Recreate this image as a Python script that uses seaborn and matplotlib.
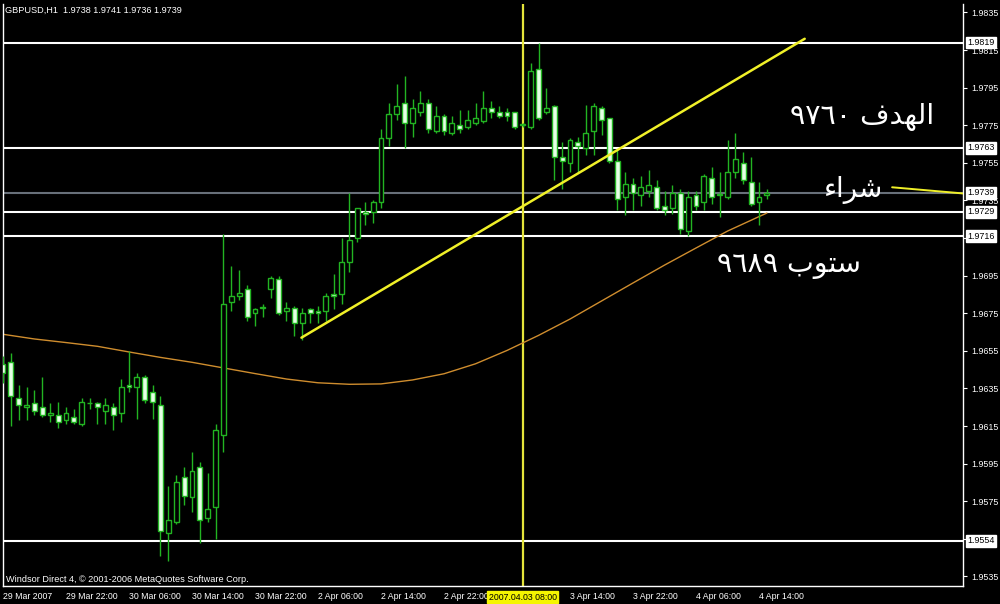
import numpy as np
import pandas as pd
import matplotlib
matplotlib.use("Agg")
import matplotlib.pyplot as plt
import seaborn as sns

# GBPUSD H1, one bar per hour, from 29 Mar 2007 14:00 to 4 Apr 2007 15:00
opens = [1.9648, 1.9649, 1.9630, 1.9625, 1.9627, 1.9625, 1.9621, 1.9621, 1.9618, 1.9620,
         1.9616, 1.9627, 1.9627, 1.9623, 1.9625, 1.9622, 1.9637, 1.9636, 1.9641, 1.9633,
         1.9626, 1.9558, 1.9564, 1.9588, 1.9577, 1.9593, 1.9566, 1.9572, 1.9610, 1.9681,
         1.9684, 1.9688, 1.9675, 1.9678, 1.9688, 1.9693, 1.9676, 1.9678, 1.9670, 1.9677,
         1.9676, 1.9676, 1.9685, 1.9685, 1.9702, 1.9715, 1.9729, 1.9729, 1.9734, 1.9768,
         1.9781, 1.9787, 1.9776, 1.9782, 1.9787, 1.9772, 1.9780, 1.9771, 1.9775, 1.9774,
         1.9776, 1.9777, 1.9784, 1.9782, 1.9782, 1.9782, 1.9775, 1.9774, 1.9805, 1.9782,
         1.9785, 1.9758, 1.9755, 1.9766, 1.9763, 1.9772, 1.9784, 1.9779, 1.9756, 1.9737,
         1.9744, 1.9738, 1.9740, 1.9742, 1.9732, 1.9731, 1.9739, 1.9719, 1.9738, 1.9734,
         1.9747, 1.9738, 1.9737, 1.9750, 1.9755, 1.9745, 1.9734, 1.9738]
highs = [1.9652, 1.9654, 1.9637, 1.9636, 1.9634, 1.9641, 1.9627, 1.9628, 1.9625, 1.9624,
         1.9630, 1.9630, 1.9628, 1.9630, 1.9627, 1.9640, 1.9655, 1.9643, 1.9642, 1.9637,
         1.9631, 1.9583, 1.9589, 1.9593, 1.9601, 1.9596, 1.9590, 1.9616, 1.9717, 1.9700,
         1.9698, 1.9690, 1.9678, 1.9680, 1.9695, 1.9695, 1.9681, 1.9679, 1.9678, 1.9678,
         1.9679, 1.9686, 1.9696, 1.9715, 1.9739, 1.9731, 1.9734, 1.9735, 1.9773, 1.9787,
         1.9797, 1.9801, 1.9789, 1.9793, 1.9789, 1.9785, 1.9781, 1.9780, 1.9783, 1.9783,
         1.9787, 1.9793, 1.9788, 1.9785, 1.9784, 1.9782, 1.9776, 1.9808, 1.9819, 1.9795,
         1.9786, 1.9766, 1.9768, 1.9769, 1.9786, 1.9787, 1.9785, 1.9779, 1.9762, 1.9750,
         1.9747, 1.9748, 1.9751, 1.9746, 1.9740, 1.9743, 1.9741, 1.9740, 1.9740, 1.9749,
         1.9753, 1.9750, 1.9767, 1.9771, 1.9761, 1.9758, 1.9745, 1.9741]
lows = [1.9638, 1.9615, 1.9618, 1.9618, 1.9621, 1.9620, 1.9617, 1.9614, 1.9616, 1.9616,
        1.9615, 1.9624, 1.9616, 1.9616, 1.9613, 1.9617, 1.9633, 1.9619, 1.9627, 1.9619,
        1.9546, 1.9543, 1.9563, 1.9573, 1.9569, 1.9553, 1.9564, 1.9555, 1.9601, 1.9676,
        1.9682, 1.9671, 1.9668, 1.9673, 1.9683, 1.9674, 1.9671, 1.9663, 1.9661, 1.9670,
        1.9670, 1.9671, 1.9677, 1.9680, 1.9697, 1.9713, 1.9722, 1.9723, 1.9731, 1.9764,
        1.9778, 1.9763, 1.9769, 1.9780, 1.9771, 1.9771, 1.9770, 1.9770, 1.9771, 1.9773,
        1.9775, 1.9776, 1.9779, 1.9779, 1.9777, 1.9773, 1.9774, 1.9773, 1.9778, 1.9781,
        1.9746, 1.9741, 1.9750, 1.9750, 1.9759, 1.9759, 1.9770, 1.9755, 1.9730, 1.9727,
        1.9730, 1.9732, 1.9737, 1.9730, 1.9727, 1.9728, 1.9717, 1.9716, 1.9730, 1.9730,
        1.9733, 1.9726, 1.9736, 1.9747, 1.9744, 1.9732, 1.9722, 1.9736]
closes = [1.9643, 1.9631, 1.9626, 1.9626, 1.9623, 1.9621, 1.9622, 1.9617, 1.9622, 1.9617,
          1.9628, 1.9627, 1.9625, 1.9626, 1.9621, 1.9636, 1.9636, 1.9641, 1.9629, 1.9628,
          1.9559, 1.9565, 1.9585, 1.9578, 1.9591, 1.9565, 1.9571, 1.9613, 1.9680, 1.9684,
          1.9686, 1.9673, 1.9677, 1.9678, 1.9694, 1.9675, 1.9678, 1.9670, 1.9675, 1.9675,
          1.9675, 1.9684, 1.9684, 1.9702, 1.9714, 1.9731, 1.9728, 1.9734, 1.9768, 1.9781,
          1.9785, 1.9776, 1.9784, 1.9787, 1.9773, 1.9780, 1.9772, 1.9776, 1.9773, 1.9778,
          1.9779, 1.9784, 1.9782, 1.9780, 1.9780, 1.9774, 1.9775, 1.9804, 1.9779, 1.9784,
          1.9758, 1.9756, 1.9767, 1.9764, 1.9771, 1.9785, 1.9778, 1.9756, 1.9736, 1.9744,
          1.9739, 1.9742, 1.9743, 1.9731, 1.9730, 1.9739, 1.9720, 1.9737, 1.9732, 1.9748,
          1.9737, 1.9738, 1.9750, 1.9757, 1.9746, 1.9733, 1.9737, 1.9739]

# moving average (orange curve), read every 4 bars
ma_bars = [0, 4, 8, 12, 16, 20, 24, 28, 32, 36, 40, 44, 48, 52, 56, 60, 64,
           68, 72, 76, 80, 84, 88, 92, 96, 97]
ma_values = [1.96638, 1.96613, 1.96594, 1.96574, 1.96544, 1.96515, 1.96489, 1.96459,
             1.96429, 1.96400, 1.96380, 1.96372, 1.96374, 1.96395, 1.96428, 1.96481,
             1.96552, 1.96632, 1.96719, 1.96815, 1.96911, 1.97006, 1.97097, 1.97187,
             1.97264, 1.97283]

# drawn objects
hlines_levels = [1.9819, 1.9763, 1.9729, 1.9716, 1.9554]
bid_price = 1.9739
trend_bars = [37.9, 101.8]
trend_prices = [1.9662, 1.9821]
buy_bars = [112.9, 122.5]
buy_prices = [1.9742, 1.97385]
vline_bar = 66

tick_bars = [0, 8, 16, 24, 32, 40, 48, 56, 72, 80, 88, 96]
tick_labels = ["29 Mar 2007", "29 Mar 22:00", "30 Mar 06:00", "30 Mar 14:00",
               "30 Mar 22:00", "2 Apr 06:00", "2 Apr 14:00", "2 Apr 22:00",
               "3 Apr 14:00", "3 Apr 22:00", "4 Apr 06:00", "4 Apr 14:00"]
price_ticks = [1.9535, 1.9555, 1.9575, 1.9595, 1.9615, 1.9635, 1.9655, 1.9675,
               1.9695, 1.9715, 1.9735, 1.9755, 1.9775, 1.9795, 1.9815, 1.9835]
# these two scale labels sit under the boxed line prices in the terminal
hidden_ticks = [1.9555, 1.9715]

sns.set_theme(style="dark", rc={
    "figure.facecolor": "black",
    "axes.facecolor": "black",
    "axes.edgecolor": "white",
    "text.color": "white",
    "xtick.color": "white",
    "ytick.color": "white",
})
plt.rcParams["font.family"] = ["Liberation Sans", "DejaVu Sans"]

df = pd.DataFrame({"open": opens, "high": highs, "low": lows, "close": closes})
df["bar"] = np.arange(len(df))
ma_df = pd.DataFrame({"bar": ma_bars, "ma": ma_values})
trend_df = pd.DataFrame({"bar": trend_bars, "price": trend_prices})
buy_df = pd.DataFrame({"bar": buy_bars, "price": buy_prices})

fig = plt.figure(figsize=(10, 6.04), dpi=100)
ax = fig.add_axes([0.0025, 0.0298, 0.9605, 0.9636])
ax.set_xlim(-0.06, 121.9)
ax.set_ylim(1.95299, 1.98395)

# horizontal levels and bid line
for lvl in hlines_levels:
    ax.axhline(lvl, color="white", lw=1.5, zorder=1)
ax.axhline(bid_price, color="#68707a", lw=1.5, zorder=1)
ax.axvline(vline_bar, color="#e4e43a", lw=1.6, zorder=1)

sns.lineplot(data=ma_df, x="bar", y="ma", color="#cf8d2e", lw=1.0, ax=ax, zorder=2)

# candles
green = "#22b422"
bull = df["close"] >= df["open"]
ax.vlines(df["bar"], df["low"], df["high"], color=green, lw=1.0, zorder=3)
body_lo = np.minimum(df["open"], df["close"])
body_h = np.maximum(np.abs(df["close"] - df["open"]), 0.00004)
ax.bar(df["bar"][bull], body_h[bull], bottom=body_lo[bull], width=0.62,
       facecolor="black", edgecolor=green, lw=1.0, zorder=4)
ax.bar(df["bar"][~bull], body_h[~bull], bottom=body_lo[~bull], width=0.62,
       facecolor="#e6ffe6", edgecolor=green, lw=1.0, zorder=4)

sns.lineplot(data=trend_df, x="bar", y="price", color="#f0f028", lw=1.8, ax=ax, zorder=5)
sns.lineplot(data=buy_df, x="bar", y="price", color="#f0f028", lw=1.4, ax=ax, zorder=5)

# axes styling
ax.spines["top"].set_visible(False)
for side in ["left", "bottom", "right"]:
    ax.spines[side].set_color("white")
    ax.spines[side].set_linewidth(1.0)
ax.set_xlabel("")
ax.set_ylabel("")
ax.grid(False)

ax.yaxis.tick_right()
ax.set_yticks(price_ticks)
ax.set_yticklabels(["" if p in hidden_ticks else f"{p:.4f}" for p in price_ticks])
ax.tick_params(axis="y", which="both", direction="out", length=3, width=0.8,
               pad=3, labelsize=6.4, colors="white", left=False, right=True)

ax.set_xticks(tick_bars)
ax.set_xticklabels(tick_labels)
ax.tick_params(axis="x", direction="out", length=3, width=0.8, pad=1.5,
               labelsize=6.3, colors="white")
for lbl in ax.get_xticklabels():
    lbl.set_ha("left")

# boxed price labels on the right
for lvl in hlines_levels + [bid_price]:
    ax.annotate(f"{lvl:.4f}", xy=(1, lvl), xycoords=("axes fraction", "data"),
                xytext=(3.2, 0), textcoords="offset points", ha="left", va="center",
                fontsize=6.4, color="black",
                bbox=dict(boxstyle="square,pad=0.15", fc="white", ec="white"))

# highlighted time of the vertical line
ax.annotate("2007.04.03 08:00", xy=(vline_bar, 0), xycoords=("data", "axes fraction"),
            xytext=(0, -8), textcoords="offset points", ha="center", va="center",
            fontsize=6.3, color="black",
            bbox=dict(boxstyle="square,pad=0.15", fc="#f5f500", ec="#f5f500"))

ax.text(0.0026, 0.9897, "GBPUSD,H1  1.9738 1.9741 1.9736 1.9739", transform=ax.transAxes,
        ha="left", va="center", fontsize=6.6, color="white")
ax.text(0.0036, 0.012, "Windsor Direct 4, \u00a9 2001-2006 MetaQuotes Software Corp.",
        transform=ax.transAxes, ha="left", va="center", fontsize=6.6, color="white")

# Arabic notes, written in visual order with contextual letter forms
# "الهدف ٩٧٦٠"  (target 9760)
ax.text(0.895, 0.806, "\u0669\u0667\u0666\u0660 \ufed1\ufeaa\ufeec\ufedf\ufe8d",
        transform=ax.transAxes, ha="center", va="center", fontsize=20.5,
        color="white", family=["DejaVu Sans"])
# "شراء"  (buy)
ax.text(0.886, 0.680, "\ufe80\ufe8d\ufeae\ufeb7", transform=ax.transAxes,
        ha="center", va="center", fontsize=20, color="white", family=["DejaVu Sans"])
# "ستوب ٩٦٨٩"  (stop 9689)
ax.text(0.819, 0.552, "\u0669\u0666\u0668\u0669 \ufe8f\ufeee\ufe98\ufeb3",
        transform=ax.transAxes, ha="center", va="center", fontsize=20.5,
        color="white", family=["DejaVu Sans"])

fig.savefig("out.png", dpi=100, facecolor="black")
